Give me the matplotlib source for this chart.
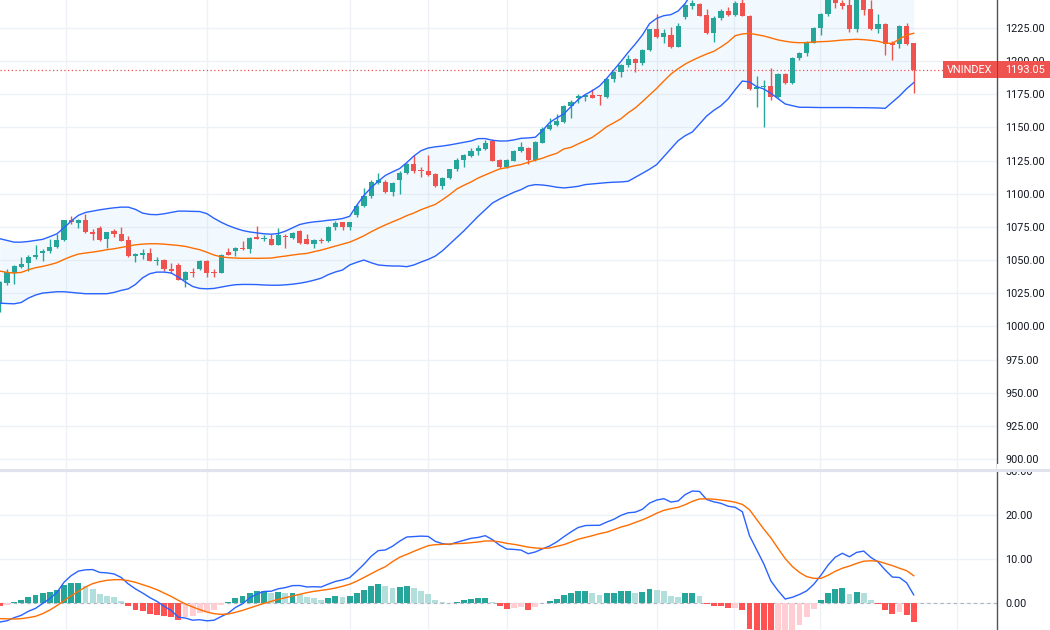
import matplotlib
matplotlib.use("Agg")
import matplotlib.pyplot as plt
from matplotlib.patches import Rectangle
from matplotlib.ticker import FormatStrFormatter
import numpy as np

# ---- data (daily bars, oldest first) ----
opens = [
    1017.5, 1032.5, 1040.5, 1045.0, 1047.5, 1052.0, 1055.0, 1056.5, 1060.0, 1065.0,
    1080.0, 1078.0, 1080.5, 1071.0, 1074.0, 1066.0, 1072.0, 1070.0, 1065.0, 1053.0,
    1054.0, 1055.0, 1049.5, 1050.0, 1043.5, 1046.0, 1035.0, 1041.0, 1043.0, 1049.5,
    1041.0, 1040.5, 1056.0, 1056.5, 1059.0, 1058.0, 1067.5, 1066.0, 1066.0, 1061.0,
    1068.5, 1066.5, 1072.0, 1066.0, 1062.0, 1065.0, 1064.0, 1075.0, 1078.5, 1075.0,
    1084.0, 1090.5, 1098.0, 1108.0, 1109.0, 1101.0, 1110.0, 1116.0, 1122.5, 1117.5,
    1117.5, 1115.0, 1105.5, 1112.0, 1118.5, 1125.7, 1128.7, 1132.0, 1134.0, 1140.0,
    1125.7, 1120.0, 1125.0, 1132.5, 1134.5, 1125.5, 1138.5, 1149.0, 1151.5, 1154.0,
    1166.0, 1172.0, 1173.0, 1174.5, 1174.0, 1172.7, 1186.3, 1191.5, 1196.8, 1201.4,
    1198.3, 1208.4, 1224.0, 1218.5, 1220.0, 1211.0, 1233.0, 1241.8, 1243.0, 1234.8,
    1221.0, 1232.8, 1237.8, 1234.8, 1244.0, 1234.3, 1179.0, 1180.5, 1181.0, 1172.7,
    1190.3, 1183.8, 1202.0, 1206.0, 1214.0, 1225.0, 1235.5, 1247.0, 1243.6, 1242.3,
    1224.0, 1248.0, 1239.0, 1224.0, 1228.0, 1214.0, 1212.7, 1226.5, 1213.4,
]
highs = [
    1034.5, 1043.5, 1046.5, 1052.0, 1053.5, 1061.0, 1058.0, 1066.0, 1070.0, 1080.5,
    1083.0, 1081.0, 1085.0, 1073.5, 1076.0, 1071.5, 1073.5, 1075.0, 1068.5, 1055.0,
    1058.0, 1059.0, 1052.0, 1051.0, 1047.5, 1047.5, 1041.5, 1044.0, 1049.8, 1050.0,
    1043.0, 1054.5, 1059.0, 1059.5, 1064.0, 1067.5, 1076.0, 1069.0, 1070.0, 1074.0,
    1069.5, 1071.0, 1072.5, 1070.0, 1066.0, 1067.0, 1076.0, 1079.5, 1079.0, 1079.0,
    1092.0, 1104.0, 1110.0, 1115.5, 1110.0, 1108.5, 1117.0, 1123.0, 1129.5, 1120.5,
    1129.0, 1116.0, 1113.0, 1119.0, 1127.0, 1130.0, 1134.5, 1137.0, 1140.5, 1141.0,
    1126.5, 1126.5, 1133.0, 1139.0, 1135.5, 1139.5, 1150.0, 1157.0, 1160.0, 1167.0,
    1170.5, 1175.5, 1175.5, 1178.7, 1174.5, 1187.0, 1192.5, 1197.5, 1204.5, 1202.0,
    1209.0, 1224.5, 1235.6, 1224.0, 1226.0, 1229.0, 1243.0, 1246.0, 1244.0, 1239.0,
    1234.0, 1239.0, 1241.0, 1245.0, 1246.5, 1235.0, 1188.8, 1185.8, 1194.6, 1191.0,
    1191.0, 1203.0, 1207.0, 1215.0, 1226.0, 1236.0, 1250.0, 1250.0, 1246.0, 1246.5,
    1250.0, 1250.0, 1246.0, 1235.6, 1229.0, 1215.0, 1227.0, 1228.5, 1214.0,
]
lows = [
    1011.0, 1031.0, 1032.0, 1044.0, 1042.0, 1051.0, 1049.0, 1055.5, 1059.0, 1064.5,
    1077.0, 1074.0, 1070.5, 1065.0, 1064.5, 1059.0, 1067.5, 1064.0, 1052.5, 1048.5,
    1051.0, 1049.0, 1046.5, 1041.5, 1040.0, 1035.0, 1030.0, 1037.0, 1042.5, 1037.5,
    1037.0, 1040.0, 1053.5, 1053.0, 1057.5, 1055.5, 1066.0, 1064.0, 1061.0, 1061.0,
    1059.0, 1066.0, 1062.0, 1062.0, 1059.0, 1063.0, 1063.5, 1072.5, 1072.5, 1072.5,
    1082.5, 1090.0, 1097.0, 1107.0, 1100.5, 1098.0, 1100.0, 1115.0, 1116.0, 1112.5,
    1113.5, 1105.0, 1103.5, 1111.0, 1117.5, 1120.0, 1127.5, 1129.5, 1133.0, 1124.5,
    1119.5, 1119.5, 1124.5, 1131.5, 1122.5, 1124.5, 1138.0, 1148.0, 1151.0, 1153.0,
    1157.0, 1168.5, 1170.0, 1172.0, 1167.0, 1172.0, 1184.5, 1188.0, 1195.5, 1192.0,
    1197.0, 1207.5, 1217.5, 1214.0, 1210.0, 1210.5, 1231.5, 1239.0, 1234.0, 1220.5,
    1214.7, 1231.0, 1234.0, 1234.0, 1234.0, 1178.5, 1165.7, 1150.1, 1171.0, 1172.0,
    1183.0, 1183.0, 1200.5, 1204.0, 1213.5, 1220.0, 1234.0, 1240.0, 1239.5, 1222.0,
    1222.2, 1234.5, 1223.5, 1221.0, 1204.6, 1201.0, 1210.0, 1212.0, 1175.7,
]
closes = [
    1033.5, 1041.0, 1045.5, 1047.0, 1052.5, 1054.0, 1057.0, 1060.0, 1065.0, 1080.0,
    1079.0, 1080.5, 1071.0, 1070.0, 1065.0, 1071.0, 1070.0, 1064.5, 1053.0, 1054.5,
    1055.5, 1049.5, 1050.0, 1043.0, 1042.0, 1035.0, 1041.0, 1040.0, 1049.5, 1040.0,
    1040.5, 1054.0, 1054.0, 1059.0, 1058.0, 1067.0, 1066.0, 1067.0, 1061.0, 1069.0,
    1067.5, 1070.5, 1062.5, 1062.0, 1065.0, 1064.0, 1075.0, 1078.0, 1075.0, 1078.5,
    1091.0, 1098.0, 1109.0, 1110.0, 1101.0, 1108.0, 1116.0, 1122.5, 1117.0, 1117.0,
    1114.5, 1105.5, 1112.0, 1118.5, 1125.7, 1129.5, 1132.5, 1134.5, 1138.0, 1125.0,
    1120.0, 1125.7, 1132.5, 1135.0, 1125.5, 1139.0, 1149.0, 1152.0, 1154.5, 1166.0,
    1169.5, 1173.5, 1174.5, 1172.5, 1173.5, 1186.3, 1192.0, 1196.8, 1201.9, 1198.4,
    1208.4, 1224.0, 1218.0, 1221.0, 1211.0, 1226.5, 1242.3, 1243.6, 1234.3, 1221.0,
    1232.8, 1237.8, 1234.8, 1244.0, 1234.3, 1178.7, 1180.8, 1181.5, 1172.7, 1190.3,
    1183.8, 1202.0, 1206.0, 1214.0, 1225.0, 1235.5, 1247.0, 1243.8, 1241.6, 1224.0,
    1248.0, 1238.6, 1224.0, 1228.0, 1212.7, 1212.2, 1226.5, 1212.7, 1193.05,
]

# Bollinger bands (20, 2)
bb_upper = [
    1066.1, 1064.8, 1063.5, 1063.5, 1064.0, 1064.8, 1065.6, 1067.6, 1069.8, 1074.4,
    1079.4, 1083.7, 1085.9, 1086.9, 1087.9, 1088.7, 1089.4, 1089.9, 1089.9, 1088.2,
    1085.4, 1084.4, 1084.2, 1084.9, 1085.9, 1086.9, 1086.9, 1086.7, 1086.6, 1085.0,
    1081.5, 1078.5, 1076.0, 1074.0, 1072.3, 1071.2, 1070.5, 1069.8, 1069.5, 1070.0,
    1071.8, 1074.3, 1076.8, 1078.0, 1078.8, 1079.3, 1080.0, 1080.5, 1081.3, 1083.0,
    1091.3, 1098.8, 1104.5, 1109.5, 1113.8, 1116.5, 1119.0, 1123.5, 1128.5, 1132.5,
    1134.5, 1135.4, 1136.0, 1136.8, 1137.8, 1138.8, 1139.8, 1141.6, 1141.6, 1140.3,
    1139.8, 1139.8, 1140.6, 1141.8, 1142.1, 1142.6, 1147.6, 1153.7, 1157.2, 1160.2,
    1165.7, 1171.0, 1174.8, 1177.8, 1181.3, 1187.0, 1193.3, 1199.8, 1206.6, 1212.9,
    1219.7, 1228.3, 1232.3, 1234.3, 1235.1, 1237.8, 1243.6, 1252.0, 1253.6, 1252.2,
    1251.9, 1255.0, 1257.3, 1259.9, 1256.0, 1257.7, 1259.2, 1260.0, 1260.3, 1262.3,
    1264.3, 1263.4, 1263.2, 1263.2, 1263.8, 1264.4, 1264.8, 1265.8, 1266.8, 1267.4,
    1268.0, 1267.4, 1266.4, 1265.7, 1264.4, 1257.8, 1259.7, 1260.2, 1258.2,
]
bb_mid = [
    1041.7, 1040.7, 1040.2, 1040.7, 1042.7, 1044.2, 1045.2, 1046.5, 1048.0, 1050.5,
    1052.7, 1054.5, 1055.3, 1056.0, 1056.8, 1057.8, 1058.5, 1059.5, 1060.5, 1061.5,
    1062.0, 1062.3, 1062.3, 1062.0, 1061.5, 1061.0, 1060.3, 1059.0, 1057.8, 1055.9,
    1053.8, 1052.4, 1051.8, 1051.5, 1051.3, 1051.4, 1051.3, 1051.4, 1051.5, 1052.3,
    1053.0, 1053.8, 1054.5, 1055.0, 1056.3, 1057.5, 1059.0, 1060.5, 1062.0, 1063.5,
    1065.8, 1068.3, 1071.3, 1074.0, 1076.5, 1078.8, 1081.0, 1083.5, 1085.5, 1088.0,
    1090.0, 1092.0, 1095.5, 1099.3, 1103.6, 1106.4, 1108.9, 1111.9, 1114.2, 1116.5,
    1118.7, 1119.7, 1121.0, 1122.0, 1123.7, 1125.3, 1126.8, 1128.8, 1130.5, 1133.8,
    1135.0, 1137.6, 1140.0, 1142.6, 1146.4, 1150.6, 1153.5, 1156.6, 1161.0, 1164.7,
    1169.5, 1174.5, 1179.5, 1185.0, 1190.3, 1194.3, 1197.8, 1200.6, 1203.1, 1205.4,
    1207.4, 1210.7, 1214.4, 1219.2, 1220.5, 1221.0, 1220.0, 1219.0, 1217.5, 1216.0,
    1215.0, 1214.2, 1213.9, 1214.0, 1214.4, 1214.7, 1214.9, 1215.4, 1215.9, 1216.2,
    1216.5, 1216.2, 1215.7, 1215.0, 1213.6, 1213.4, 1216.7, 1219.7, 1221.0,
]
bb_lower = [
    1017.5, 1017.2, 1017.0, 1018.0, 1021.3, 1023.6, 1025.1, 1025.6, 1026.1, 1026.1,
    1025.6, 1025.1, 1024.6, 1024.6, 1024.6, 1024.6, 1025.6, 1027.1, 1028.3, 1031.6,
    1036.6, 1039.7, 1040.9, 1040.9, 1040.2, 1037.2, 1033.4, 1030.1, 1028.6, 1028.3,
    1028.6, 1029.6, 1030.6, 1031.4, 1031.6, 1031.6, 1031.5, 1031.2, 1031.0, 1031.0,
    1031.3, 1031.8, 1032.5, 1033.5, 1034.8, 1036.3, 1039.0, 1041.0, 1042.5, 1046.3,
    1048.3, 1050.0, 1048.0, 1046.3, 1045.8, 1045.5, 1045.5, 1045.0, 1046.3, 1048.5,
    1050.5, 1053.0, 1057.0, 1062.0, 1067.0, 1072.0, 1077.5, 1083.0, 1088.0, 1093.0,
    1096.0, 1098.6, 1101.1, 1103.1, 1105.9, 1106.9, 1106.6, 1105.9, 1104.9, 1104.4,
    1104.9, 1105.6, 1106.9, 1107.4, 1107.9, 1108.4, 1108.7, 1108.9, 1109.4, 1112.4,
    1115.4, 1118.5, 1122.0, 1128.0, 1134.0, 1140.0, 1143.8, 1146.6, 1152.6, 1158.6,
    1162.9, 1166.4, 1171.5, 1178.5, 1185.0, 1184.3, 1180.8, 1179.0, 1175.7, 1171.7,
    1167.7, 1166.4, 1165.2, 1165.2, 1165.1, 1165.0, 1165.0, 1165.0, 1165.0, 1165.0,
    1164.9, 1164.9, 1164.8, 1164.7, 1164.4, 1169.0, 1173.7, 1179.2, 1183.8,
]

# MACD (12, 26, 9): signal line and histogram
macd_signal = [
    -3.56, -3.60, -3.64, -3.56, -3.33, -3.03, -2.42, -1.60, -0.60, 0.53,
    1.67, 2.65, 3.64, 4.40, 4.85, 5.15, 5.30, 5.30, 5.08, 4.70,
    4.17, 3.64, 3.03, 2.27, 1.50, 0.60, -0.23, -0.90, -1.50, -2.05,
    -2.42, -2.58, -2.50, -2.12, -1.67, -1.14, -0.60, -0.08, 0.38, 0.83,
    1.20, 1.60, 1.97, 2.35, 2.65, 2.88, 3.10, 3.40, 3.80, 4.27,
    4.95, 5.80, 6.65, 7.50, 8.25, 9.40, 10.40, 11.05, 11.74, 12.40,
    13.03, 13.26, 13.33, 13.40, 13.50, 13.56, 13.70, 13.86, 14.10, 14.10,
    13.90, 13.56, 13.33, 13.03, 12.70, 12.50, 12.40, 12.50, 12.88, 13.26,
    13.86, 14.50, 14.90, 15.30, 15.76, 16.10, 16.67, 17.27, 17.70, 18.30,
    18.90, 19.60, 20.40, 21.06, 21.44, 21.74, 22.35, 23.10, 23.65, 23.67,
    23.60, 23.40, 23.20, 22.90, 22.40, 21.20, 19.00, 16.80, 14.80, 12.40,
    10.10, 8.30, 6.94, 6.00, 5.60, 5.60, 6.30, 7.20, 7.90, 8.40,
    9.00, 9.50, 9.60, 9.50, 9.00, 8.50, 7.90, 7.35, 6.20,
]
macd_hist = [
    -0.76, -0.45, 0.30, 0.75, 1.45, 1.80, 2.30, 2.60, 3.00, 4.20,
    4.55, 4.60, 3.90, 3.20, 2.10, 1.70, 1.30, 0.50, -0.75, -1.50,
    -1.90, -2.40, -2.65, -3.00, -3.20, -3.80, -3.20, -3.00, -2.30, -2.00,
    -1.50, -0.50, 0.20, 1.10, 1.50, 2.30, 2.65, 2.70, 2.30, 2.40,
    2.30, 2.35, 2.00, 1.30, 1.05, 0.75, 1.20, 1.50, 1.45, 1.50,
    2.30, 3.00, 3.95, 4.40, 3.80, 3.50, 3.65, 3.95, 3.35, 2.80,
    2.10, 0.75, 0.15, -0.10, 0.30, 0.70, 1.00, 1.05, 1.20, 0.30,
    -0.75, -1.30, -1.15, -1.00, -1.50, -0.90, -0.10, 0.45, 1.00, 1.80,
    2.30, 2.65, 2.70, 2.35, 1.90, 2.30, 2.35, 2.65, 2.80, 2.35,
    2.40, 3.10, 3.00, 2.65, 1.50, 1.45, 2.30, 2.35, 1.70, -0.15,
    -0.60, -0.75, -1.20, -1.15, -1.65, -5.90, -6.90, -7.90, -9.80, -9.60,
    -9.20, -7.00, -5.00, -3.25, -1.35, 0.70, 2.30, 3.20, 3.40, 2.10,
    2.50, 2.30, 0.75, -0.15, -1.50, -2.60, -2.10, -2.75, -4.35,
]

symbol = "VNINDEX"
price_ticks = [900, 925, 950, 975, 1000, 1025, 1050, 1075, 1100, 1125, 1150, 1175, 1200, 1225]
macd_ticks = [0, 10, 20, 30]

# ---- colours (TradingView light theme) ----
UP = "#26a69a"
DOWN = "#ef5350"
BAND = "#2962ff"
MID = "#ff6d00"
GRID = "#eef1f6"
TEXT = "#131722"

plt.rcParams["font.family"] = ["Roboto", "DejaVu Sans"]

W, H = 1050, 630
PLOT_R = 997          # x pixel of the price scale border
MAIN_B = 469          # bottom of the price pane (pixels from top)
SUB_T = 471           # top of the MACD pane
X0, DX = -0.2, 7.14   # pixel centre of bar 0 and bar spacing


def fy(py):
    return 1 - py / H


fig = plt.figure(figsize=(W / 100, H / 100), dpi=100)
ax = fig.add_axes([0, fy(MAIN_B), PLOT_R / W, MAIN_B / H])
axm = fig.add_axes([0, 0, PLOT_R / W, (H - SUB_T) / H])

xlim = ((0 - X0) / DX, (PLOT_R - X0) / DX)
vgrid = [(p - X0) / DX for p in (66, 207, 350, 428, 507, 657, 734, 820, 957)]

idx = np.arange(len(closes))
o, hi, lo, c = (np.array(v) for v in (opens, highs, lows, closes))

# ---- price pane ----
ax.fill_between(idx, bb_lower, bb_upper, color="#2196f3", alpha=0.055, lw=0, zorder=1)
ax.axhline(closes[-1], color=DOWN, lw=0.9, ls=(0, (1, 2)), zorder=2)

cols = np.where(c >= o, UP, DOWN)
ax.vlines(idx, lo, hi, colors=cols, lw=1.0, zorder=3)
body_lo = np.minimum(o, c)
body_h = np.maximum(np.abs(c - o), 0.7)
ax.bar(idx, body_h, bottom=body_lo, width=0.72, color=cols, lw=0, zorder=3)

ax.plot(idx, bb_upper, color=BAND, lw=1.0, zorder=4)
ax.plot(idx, bb_lower, color=BAND, lw=1.0, zorder=4)
ax.plot(idx, bb_mid, color=MID, lw=1.0, zorder=4)

ax.set_xlim(*xlim)
ax.set_ylim(1225 - (MAIN_B - 28) / 1.326, 1225 + 28 / 1.326)
ax.set_yticks(price_ticks)

# ---- MACD pane ----
hist = np.array(macd_hist)
macd_line = np.array(macd_signal) + hist
rising = np.r_[False, np.diff(hist) > 0]
hcols = np.where(hist >= 0,
                 np.where(rising, "#26a69a", "#b2dfdb"),
                 np.where(rising, "#ffcdd2", "#ff5252"))
axm.axhline(0, color="#9598a1", lw=0.8, ls=(0, (3, 3)), alpha=0.7, zorder=1)
axm.bar(idx, hist, width=0.82, color=hcols, lw=0, zorder=2)
axm.plot(idx, macd_line, color=BAND, lw=1.0, zorder=3)
axm.plot(idx, macd_signal, color=MID, lw=1.0, zorder=3)
axm.set_xlim(*xlim)
axm.set_ylim((603 - H) / 4.4, (603 - SUB_T) / 4.4)
axm.set_yticks(macd_ticks)

for a in (ax, axm):
    a.set_xticks(vgrid)
    a.tick_params(axis="x", length=0, labelbottom=False)
    a.yaxis.tick_right()
    a.yaxis.set_major_formatter(FormatStrFormatter("%.2f"))
    a.tick_params(axis="y", length=0, pad=6, labelsize=7.8, labelcolor=TEXT)
    a.grid(True, color=GRID, lw=1.0, zorder=0)
    a.set_axisbelow(True)
    for s in ("top", "left", "bottom"):
        a.spines[s].set_visible(False)
    a.spines["right"].set_color("#50535e")
    a.spines["right"].set_linewidth(1.0)

# pane separator (also clips the top of the "30.00" label)
fig.add_artist(Rectangle((PLOT_R / W, fy(MAIN_B)), 1, 5 / H, transform=fig.transFigure,
                         color="white", lw=0, zorder=5))
fig.add_artist(Rectangle((0, fy(SUB_T + 1)), 1, 3 / H, transform=fig.transFigure,
                         color="#e0e3eb", lw=0, zorder=5))

# last price labels
lab_top, lab_bot = 61.5, 78.0
fig.add_artist(Rectangle((943 / W, fy(lab_bot)), (PLOT_R - 943) / W, (lab_bot - lab_top) / H,
                         transform=fig.transFigure, color=DOWN, lw=0, zorder=6))
fig.add_artist(Rectangle(((PLOT_R + 1) / W, fy(lab_bot)), 1, (lab_bot - lab_top) / H,
                         transform=fig.transFigure, color=DOWN, lw=0, zorder=6))
fig.text(969.5 / W, fy(70), symbol, color="white", fontsize=7.8,
         ha="center", va="center", zorder=7)
fig.text(1005 / W, fy(70), f"{closes[-1]:.2f}", color="white", fontsize=7.8,
         ha="left", va="center", zorder=7)

fig.savefig("out.png", dpi=100)
